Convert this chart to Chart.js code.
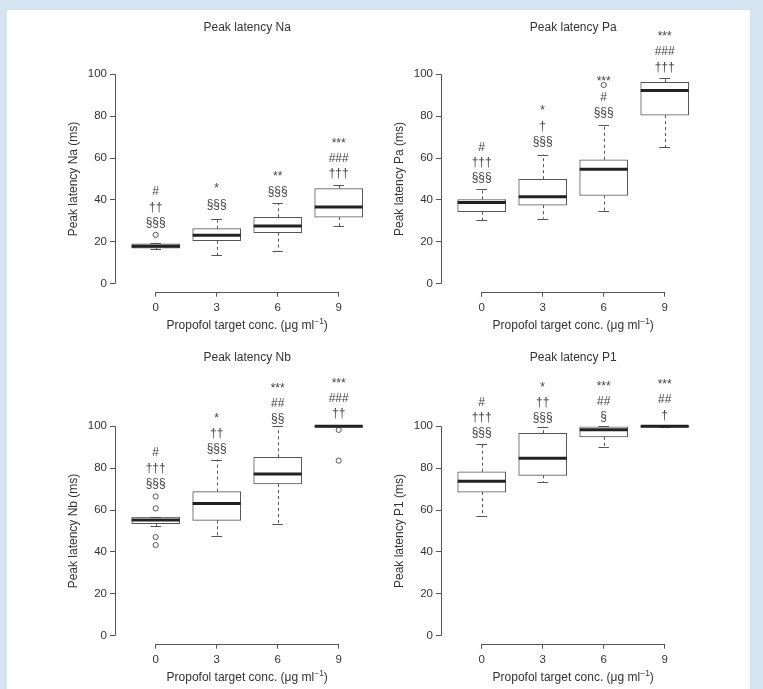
<!DOCTYPE html>
<html>
<head>
<meta charset="utf-8">
<script src="https://cdn.jsdelivr.net/npm/chart.js@4.4.1/dist/chart.umd.min.js"></script>
<style>
body { margin: 0; background: #d6e4f2; width: 763px; height: 689px; overflow: hidden; position: relative; }
#sheet { position: absolute; left: 7px; top: 10px; width: 743px; height: 679px; background: #fff; }
canvas { position: absolute; }
</style>
</head>
<body>
<div id="sheet"></div>
<canvas id="cNa" width="380" height="345" style="left:0px;top:0px"></canvas>
<canvas id="cPa" width="380" height="345" style="left:326px;top:0px"></canvas>
<canvas id="cNb" width="380" height="345" style="left:0px;top:352px"></canvas>
<canvas id="cP1" width="380" height="345" style="left:326px;top:352px"></canvas>
<script>
// propofol target concentrations (x categories)
const doses = ['0', '3', '6', '9']
const yTicks = [0, 20, 40, 60, 80, 100]

// Na
const naLow = [16.4, 13.7, 15.6, 27.4]
const naQ1 = [17.0, 20.5, 24.4, 31.8]
const naMed = [17.9, 23.1, 27.5, 36.6]
const naQ3 = [19.0, 26.3, 31.7, 45.4]
const naHigh = [19.6, 31.1, 38.5, 47.3]
const naOutGroup = [0]
const naOutValue = [23.3]
const naMarks = [['#', '††', '§§§'], ['*', '§§§'], ['**', '§§§'], ['***', '###', '†††']]
const naMarkAt = [29.1, 37.9, 44.0, 52.4]

// Pa
const paLow = [30.3, 31.1, 34.8, 65.2]
const paQ1 = [34.4, 37.5, 42.1, 80.5]
const paMed = [38.8, 41.5, 54.7, 92.3]
const paQ3 = [40.2, 49.9, 59.2, 96.2]
const paHigh = [45.1, 61.7, 75.8, 98.1]
const paOutGroup = [2]
const paOutValue = [94.9]
const paMarks = [['#', '†††', '§§§'], ['*', '†', '§§§'], ['***', '#', '§§§'], ['***', '###', '†††']]
const paMarkAt = [50.4, 67.9, 81.7, 103.3]

// Nb
const nbLow = [52.2, 47.5, 53.5, 100]
const nbQ1 = [53.5, 55.1, 72.5, 99.6]
const nbMed = [55.3, 63.1, 77.2, 100]
const nbQ3 = [56.7, 68.8, 85.2, 100]
const nbHigh = [56.7, 84.1, 100, 100]
const nbOutGroup = [0, 0, 0, 0, 3, 3]
const nbOutValue = [66.5, 60.8, 47.1, 43.3, 98.3, 83.6]
const nbMarks = [['#', '†††', '§§§'], ['*', '††', '§§§'], ['***', '##', '§§'], ['***', '###', '††']]
const nbMarkAt = [72.6, 89.2, 103.5, 105.9]

// P1
const p1Low = [57.3, 73.4, 90.3, 99.6]
const p1Q1 = [68.6, 76.6, 94.9, 99.6]
const p1Med = [73.7, 84.7, 98.4, 100]
const p1Q3 = [78.3, 96.7, 99.8, 100]
const p1High = [91.4, 99.8, 100, 100]
const p1OutGroup = []
const p1OutValue = []
const p1Marks = [['#', '†††', '§§§'], ['*', '††', '§§§'], ['***', '##', '§'], ['***', '##', '†']]
const p1MarkAt = [96.8, 104.0, 104.5, 105.3]

const FONT = '"Liberation Sans", Arial, Helvetica, sans-serif'
const INK = '#333'
const LINE = '#555'

// whiskers, medians, axis lines, labels
const boxBits = {
  id: 'boxBits',
  afterDatasetsDraw(chart, args, o) {
    const { ctx, chartArea } = chart
    const x = chart.scales.x, y = chart.scales.y
    const bars = chart.getDatasetMeta(0).data
    const al = v => Math.round(v) + 0.5
    ctx.save()
    o.q1.forEach((q, i) => {
      const cx = x.getPixelForValue(i + 1)
      const w = bars[i].width
      ctx.strokeStyle = LINE
      ctx.lineWidth = 1
      // dashed whiskers
      ctx.setLineDash([3, 3])
      ctx.beginPath()
      ctx.moveTo(al(cx), y.getPixelForValue(o.q3[i]))
      ctx.lineTo(al(cx), y.getPixelForValue(o.high[i]))
      ctx.moveTo(al(cx), y.getPixelForValue(q))
      ctx.lineTo(al(cx), y.getPixelForValue(o.low[i]))
      ctx.stroke()
      ctx.setLineDash([])
      // caps
      const cw = w * 0.11
      ctx.beginPath()
      ctx.moveTo(cx - cw, al(y.getPixelForValue(o.high[i])))
      ctx.lineTo(cx + cw, al(y.getPixelForValue(o.high[i])))
      ctx.moveTo(cx - cw, al(y.getPixelForValue(o.low[i])))
      ctx.lineTo(cx + cw, al(y.getPixelForValue(o.low[i])))
      ctx.stroke()
      // median
      ctx.strokeStyle = '#222'
      ctx.lineWidth = 3
      ctx.beginPath()
      ctx.moveTo(cx - w / 2, y.getPixelForValue(o.med[i]))
      ctx.lineTo(cx + w / 2, y.getPixelForValue(o.med[i]))
      ctx.stroke()
      // significance marks
      ctx.fillStyle = '#444'
      ctx.font = '12px ' + FONT
      ctx.textAlign = 'center'
      ctx.textBaseline = 'middle'
      const m = o.marks[i]
      const base = y.getPixelForValue(o.markAt[i])
      m.forEach((t, j) => {
        ctx.fillText(t, cx, base - 15.3 * (m.length - 1 - j))
      })
    })
    // axis lines
    ctx.strokeStyle = LINE
    ctx.lineWidth = 1
    ctx.beginPath()
    ctx.moveTo(al(chartArea.left), y.getPixelForValue(0))
    ctx.lineTo(al(chartArea.left), y.getPixelForValue(100))
    ctx.moveTo(x.getPixelForValue(1), al(chartArea.bottom))
    ctx.lineTo(x.getPixelForValue(4), al(chartArea.bottom))
    ctx.stroke()
    // titles
    ctx.fillStyle = INK
    ctx.font = '12px ' + FONT
    ctx.textAlign = 'center'
    ctx.textBaseline = 'middle'
    const mid = x.getPixelForValue(2.5)
    ctx.fillText(o.title, mid, o.titleY)
    // x title with superscript
    const a = 'Propofol target conc. (μg ml', sup = '−1', b = ')'
    ctx.font = '12px ' + FONT
    const wa = ctx.measureText(a).width, wb = ctx.measureText(b).width
    ctx.font = '8.5px ' + FONT
    const ws = ctx.measureText(sup).width
    let sx = mid - (wa + ws + wb) / 2
    const ty = chartArea.bottom + 33.5
    ctx.textAlign = 'left'
    ctx.font = '12px ' + FONT
    ctx.fillText(a, sx, ty)
    ctx.font = '8.5px ' + FONT
    ctx.fillText(sup, sx + wa, ty - 4)
    ctx.font = '12px ' + FONT
    ctx.fillText(b, sx + wa + ws, ty)
    // y title
    ctx.translate(74, y.getPixelForValue(50))
    ctx.rotate(-Math.PI / 2)
    ctx.textAlign = 'center'
    ctx.fillText(o.yTitle, 0, 0)
    ctx.restore()
  }
}

function makePanel(id, title, yTitle, titleY, low, q1, med, q3, high, outGroup, outValue, marks, markAt) {
  new Chart(document.getElementById(id), {
    type: 'bar',
    data: {
      datasets: [
        {
          type: 'bar',
          data: q1.map((v, i) => ({ x: i + 1, y: [v, q3[i]] })),
          backgroundColor: '#fff',
          borderColor: LINE,
          borderWidth: 1,
          borderSkipped: false,
          barThickness: 48
        },
        {
          type: 'scatter',
          data: outGroup.map((g, k) => ({ x: g + 1, y: outValue[k] })),
          pointRadius: 2.6,
          pointBackgroundColor: '#fff',
          pointBorderColor: LINE,
          pointBorderWidth: 1,
          clip: false
        }
      ]
    },
    options: {
      responsive: false,
      animation: false,
      devicePixelRatio: 1,
      layout: { padding: { left: 0, right: 10.8, top: 74.3, bottom: 0 } },
      plugins: {
        legend: { display: false },
        tooltip: { enabled: false },
        boxBits: { title, yTitle, titleY, low, q1, med, q3, high, marks, markAt }
      },
      scales: {
        x: {
          type: 'linear',
          min: 0.333,
          max: 4.5,
          offset: false,
          afterBuildTicks: s => { s.ticks = doses.map((d, i) => ({ value: i + 1 })) },
          afterFit: s => { s.height = 53.3 },
          ticks: { callback: v => doses[v - 1], color: INK, font: { family: FONT, size: 11.5 }, padding: 4, maxRotation: 0, autoSkip: false },
          grid: { drawOnChartArea: false, offset: false, tickLength: 5, color: LINE },
          border: { display: false }
        },
        y: {
          min: -3.82,
          max: 100,
          afterBuildTicks: s => { s.ticks = yTicks.map(v => ({ value: v })) },
          afterFit: s => { s.width = 115 },
          ticks: { color: INK, font: { family: FONT, size: 11.5 }, padding: 3 },
          grid: { drawOnChartArea: false, tickLength: 5, color: LINE },
          border: { display: false }
        }
      }
    },
    plugins: [boxBits]
  })
}

makePanel('cNa', 'Peak latency Na', 'Peak latency Na (ms)', 27.5, naLow, naQ1, naMed, naQ3, naHigh, naOutGroup, naOutValue, naMarks, naMarkAt)
makePanel('cPa', 'Peak latency Pa', 'Peak latency Pa (ms)', 27.5, paLow, paQ1, paMed, paQ3, paHigh, paOutGroup, paOutValue, paMarks, paMarkAt)
makePanel('cNb', 'Peak latency Nb', 'Peak latency Nb (ms)', 6, nbLow, nbQ1, nbMed, nbQ3, nbHigh, nbOutGroup, nbOutValue, nbMarks, nbMarkAt)
makePanel('cP1', 'Peak latency P1', 'Peak latency P1 (ms)', 6, p1Low, p1Q1, p1Med, p1Q3, p1High, p1OutGroup, p1OutValue, p1Marks, p1MarkAt)
</script>
</body>
</html>
